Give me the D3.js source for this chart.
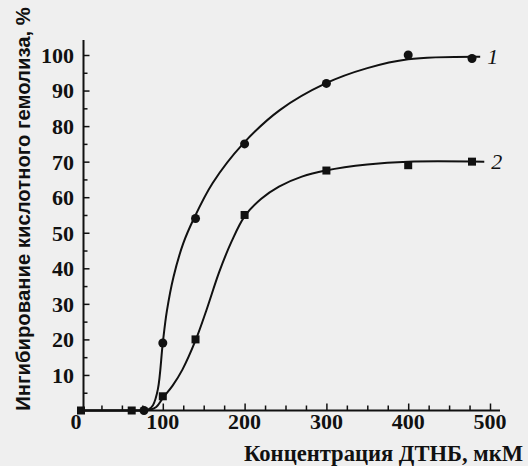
<!DOCTYPE html>
<html>
<head>
<meta charset="utf-8">
<script src="https://cdn.jsdelivr.net/npm/d3@7"></script>
<style>
  html, body { margin: 0; padding: 0; background: #efefef; }
  svg { display: block; }
</style>
</head>
<body>
<svg id="chart" width="528" height="466"></svg>
<script>
// ---- data ----
const xTickValues = [0, 100, 200, 300, 400, 500];
const yTickValues = [10, 20, 30, 40, 50, 60, 70, 80, 90, 100];

// curve 1 (circles)
const series1X = [77, 100, 140, 200, 300, 400, 478];
const series1Y = [0, 19, 54, 75, 92, 100, 99];
// curve 2 (squares)
const series2X = [0, 62, 100, 140, 200, 300, 400, 478];
const series2Y = [0, 0, 4, 20, 55, 67.5, 69, 70];

// hand-drawn fitted lines
const fit1X = [0, 40, 70, 82, 88, 94, 100, 105, 113, 125, 138, 161, 198, 243, 299, 350, 400, 488];
const fit1Y = [0, 0, 0, 0.2, 1.5, 6, 19, 28, 37.5, 47, 54, 64, 75, 84.5, 92, 96.3, 98.8, 99.5];
const fit2X = [0, 40, 70, 84, 92, 100, 112, 124, 140, 153, 169, 184, 200, 220, 242, 270, 299, 350, 400, 493];
const fit2Y = [0, 0, 0, 0.2, 1, 3.5, 7, 11.5, 19.7, 28, 39, 47.5, 54.6, 59.5, 63, 65.8, 67.5, 69.2, 70, 70];

const seriesLabels = ["1", "2"];
const xTitle = "Концентрация ДТНБ, мкМ";
const yTitle = "Ингибирование кислотного гемолиза, %";

// ---- drawing ----
const svg = d3.select("#chart");
const ink = "#111";
const x = d3.scaleLinear().domain([0, 500]).range([81, 490]);
const y = d3.scaleLinear().domain([0, 100]).range([410.5, 55]);
const x0 = 83.5;

// axes lines
svg.append("line").attr("x1", x0).attr("x2", x0).attr("y1", 40).attr("y2", y(0))
  .attr("stroke", ink).attr("stroke-width", 2);
svg.append("line").attr("x1", 81).attr("x2", 500).attr("y1", y(0)).attr("y2", y(0))
  .attr("stroke", ink).attr("stroke-width", 2);

// y ticks (inside, to the right)
const yAxis = d3.axisRight(y).tickValues(d3.range(5, 101, 5)).tickSize(0).tickFormat("");
const gy = svg.append("g").attr("transform", `translate(${x0},0)`).call(yAxis);
gy.select(".domain").remove();
gy.selectAll(".tick line").attr("stroke", ink).attr("stroke-width", 1.5)
  .attr("x2", d => (d % 10 === 0 ? 6 : 4));
// y labels
svg.append("g").selectAll("text").data(yTickValues).join("text")
  .attr("x", 74).attr("y", d => y(d)).attr("dy", "0.36em")
  .attr("text-anchor", "end")
  .attr("font-family", "Liberation Serif, Times New Roman, serif")
  .attr("font-size", 22).attr("font-weight", "bold").attr("fill", ink)
  .text(d => d);

// x ticks (inside, upward)
const xAxis = d3.axisTop(x).tickValues(d3.range(25, 501, 25)).tickSize(0).tickFormat("");
const gx = svg.append("g").attr("transform", `translate(0,${y(0)})`).call(xAxis);
gx.select(".domain").remove();
gx.selectAll(".tick line").attr("stroke", ink).attr("stroke-width", 1.5)
  .attr("y2", d => (d % 100 === 0 ? -7 : -5));
// x labels
svg.append("g").selectAll("text").data(xTickValues).join("text")
  .attr("x", d => (d === 0 ? x(d) - 5 : x(d))).attr("y", 429)
  .attr("text-anchor", "middle")
  .attr("font-family", "Liberation Serif, Times New Roman, serif")
  .attr("font-size", 22).attr("font-weight", "bold").attr("fill", ink)
  .text(d => d);

// titles
svg.append("text").attr("x", 523).attr("y", 461).attr("text-anchor", "end")
  .attr("font-family", "Liberation Serif, Times New Roman, serif")
  .attr("font-size", 22.6).attr("font-weight", "bold").attr("fill", ink)
  .text(xTitle);
svg.append("text").attr("transform", "translate(30,209) rotate(-90)")
  .attr("text-anchor", "middle")
  .attr("font-family", "Liberation Sans, Arial, sans-serif")
  .attr("font-size", 20.3).attr("font-weight", "bold").attr("fill", ink)
  .text(yTitle);

// fitted lines
const lineGen = d3.line().x(d => x(d[0])).y(d => y(d[1])).curve(d3.curveCatmullRom.alpha(0.5));
svg.append("path").datum(d3.zip(fit1X, fit1Y)).attr("d", lineGen)
  .attr("fill", "none").attr("stroke", ink).attr("stroke-width", 2);
svg.append("path").datum(d3.zip(fit2X, fit2Y)).attr("d", lineGen)
  .attr("fill", "none").attr("stroke", ink).attr("stroke-width", 2);

// markers
svg.append("g").selectAll("circle").data(d3.zip(series1X, series1Y)).join("circle")
  .attr("cx", d => x(d[0])).attr("cy", d => y(d[1])).attr("r", 4.5).attr("fill", ink);
const sq = 8;
svg.append("g").selectAll("rect").data(d3.zip(series2X, series2Y)).join("rect")
  .attr("x", d => x(d[0]) - sq / 2).attr("y", d => y(d[1]) - sq / 2)
  .attr("width", sq).attr("height", sq).attr("fill", ink);

// series labels
const labelPos = [[fit1X[fit1X.length - 1], fit1Y[fit1Y.length - 1]], [fit2X[fit2X.length - 1], fit2Y[fit2Y.length - 1]]];
svg.append("g").selectAll("text").data(seriesLabels).join("text")
  .attr("x", (d, i) => x(labelPos[i][0]) + 7)
  .attr("y", (d, i) => y(labelPos[i][1]))
  .attr("dy", "0.35em")
  .attr("font-family", "Liberation Serif, Times New Roman, serif")
  .attr("font-style", "italic").attr("font-size", 22).attr("fill", ink)
  .text(d => d);
</script>
</body>
</html>
